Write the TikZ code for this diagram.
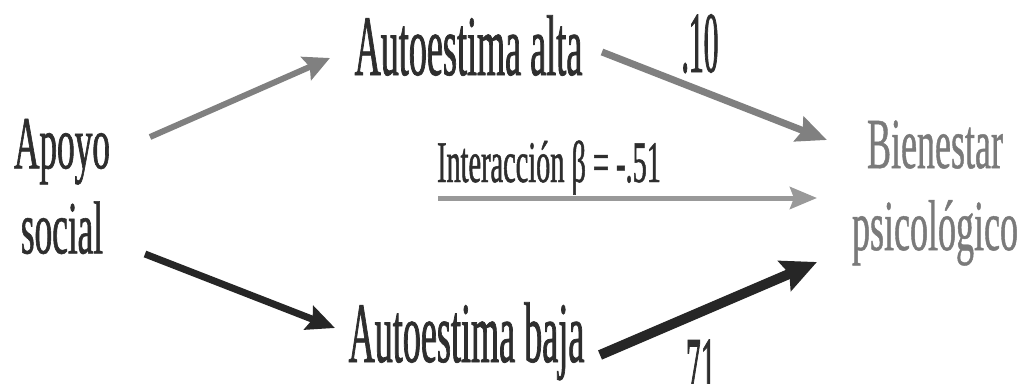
\documentclass[tikz,border=0pt]{standalone}
\usepackage{fontspec}
\usetikzlibrary{arrows.meta}
\newfontfamily\fApoyo[FakeStretch=0.47,FakeBold=0.8]{Liberation Serif}
\newfontfamily\fAuto[FakeStretch=0.42,FakeBold=0.8]{Liberation Serif}
\newfontfamily\fNum[FakeStretch=0.34,FakeBold=0.8]{Liberation Serif}
\newfontfamily\fInter[FakeStretch=0.48,FakeBold=0.8]{Liberation Serif}
\newfontfamily\fBien[FakeStretch=0.50,FakeBold=0.6]{Liberation Serif}
\definecolor{txtdark}{gray}{0.18}
\definecolor{txtgray}{gray}{0.48}
\definecolor{arrgray}{gray}{0.50}
\definecolor{arrlight}{gray}{0.60}
\definecolor{arrdark}{gray}{0.15}
\begin{document}
\begin{tikzpicture}[x=1pt,y=-1pt,
  lbl/.style={inner sep=0pt,outer sep=0pt,text=txtdark}]
\useasboundingbox (0,0) rectangle (1023,383);
\clip (0,0) rectangle (1023,383);
\fill[white] (0,0) rectangle (1023,383);
% nodes
\node[lbl,align=center,font={\fApoyo\fontsize{75}{85}\selectfont}] (apoyo) at (62,186.5) {Apoyo\\social};
\node[lbl,align=center,text=txtgray,font={\fBien\fontsize{72}{82}\selectfont}] (bien) at (935,193) {Bienestar\\psicológico};
\node[lbl,anchor=base,font={\fAuto\fontsize{86}{86}\selectfont}] (alta) at (468.5,75) {Autoestima alta};
\node[lbl,anchor=base,font={\fAuto\fontsize{86}{86}\selectfont}] (baja) at (466.5,362) {Autoestima baja};
\node[lbl,anchor=base,font={\fInter\fontsize{59}{59}\selectfont}] (inter) at (549,182) {Interacción β = -.51};
\node[lbl,anchor=base,font={\fNum\fontsize{87}{87}\selectfont}] (n10) at (700,72) {.10};
\node[lbl,anchor=base,font={\fNum\fontsize{87}{87}\selectfont}] (n71) at (697,397) {.71};
% connectors
\draw[arrgray,line width=6pt,-{Stealth[length=26pt,width=25pt,inset=4pt]}]
  ([shift={(88,-49.5)}]apoyo.center) -- ([shift={(-138.5,-17)}]alta.base);
\draw[arrgray,line width=7pt,-{Stealth[length=30pt,width=26pt,inset=4pt]}]
  ([shift={(133.5,-23)}]alta.base) -- ([shift={(-108,-53)}]bien.center);
\draw[arrlight,line width=5pt,-{Stealth[length=27pt,width=22pt,inset=4pt]}]
  ([shift={(-111,16)}]inter.base) -- ([shift={(-118,5)}]bien.center);
\draw[arrdark,line width=7pt,-{Stealth[length=28pt,width=25pt,inset=4pt]}]
  ([shift={(83,67.5)}]apoyo.center) -- ([shift={(-131.5,-34)}]baja.base);
\draw[arrdark,line width=10pt,-{Stealth[length=35pt,width=32pt,inset=5pt]}]
  ([shift={(133.5,-7)}]baja.base) -- ([shift={(-118,69)}]bien.center);
\end{tikzpicture}
\end{document}
